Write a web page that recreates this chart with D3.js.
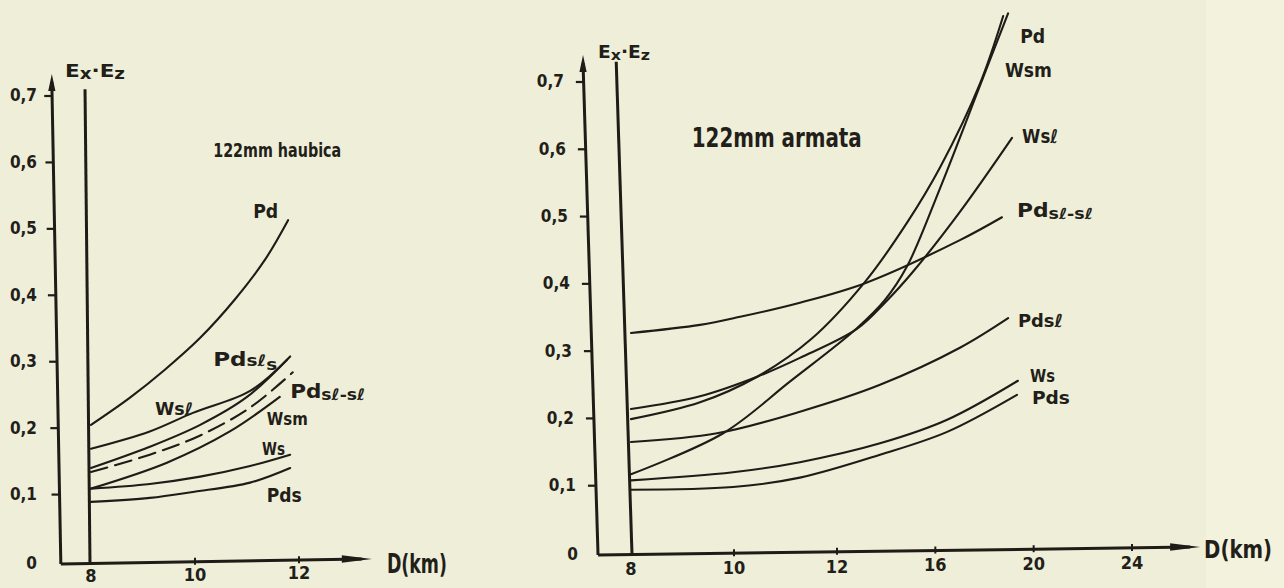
<!DOCTYPE html>
<html><head><meta charset="utf-8">
<script src="https://cdn.jsdelivr.net/npm/d3@7"></script>
<style>
html,body{margin:0;padding:0;background:#efeed8;}
svg{display:block}
text{font-family:"DejaVu Sans Condensed","DejaVu Sans",sans-serif;fill:#221e19;font-weight:bold}
</style></head><body>
<svg id="c" width="1284" height="588"></svg>
<script>
// ---------------- data ----------------
const yTickValues = [0, 0.1, 0.2, 0.3, 0.4, 0.5, 0.6, 0.7];
const yTickLabels = ["0", "0,1", "0,2", "0,3", "0,4", "0,5", "0,6", "0,7"];
const haubicaXTicks = [8, 10, 12];
const armataXTicks = [8, 10, 12, 16, 20, 24];

// 122mm haubica  [D (km), Ex·Ez]
const haubicaPd      = [[8,0.205],[8.75,0.246],[9.42,0.288],[10.1,0.336],[10.77,0.394],[11.35,0.454],[11.79,0.513]];
const haubicaPdsls   = [[8,0.140],[9.13,0.172],[10.1,0.205],[11.0,0.247],[11.83,0.308]];
const haubicaWsl     = [[8,0.169],[9.13,0.195],[9.96,0.223],[11.06,0.256],[11.77,0.303]];
const haubicaPdslsl  = [[8,0.134],[9.13,0.160],[10.1,0.189],[11.06,0.231],[11.88,0.284]];
const haubicaWsm     = [[8,0.109],[9.46,0.148],[10.67,0.195],[11.63,0.247]];
const haubicaWs      = [[8,0.109],[9.13,0.116],[10.1,0.127],[11.06,0.143],[11.83,0.160]];
const haubicaPds     = [[8,0.089],[9.13,0.095],[9.96,0.104],[11.06,0.118],[11.83,0.140]];

// 122mm armata
const armataPd     = [[8,0.199],[9.34,0.224],[10.45,0.262],[11.5,0.318],[13.14,0.403],[14.85,0.491],[16.19,0.573],[17.82,0.698],[18.76,0.798]];
const armataWsm    = [[8,0.117],[9.79,0.178],[11.09,0.255],[12.81,0.334],[13.95,0.376],[14.85,0.426],[16.19,0.542],[17.82,0.695],[18.96,0.802]];
const armataWsl    = [[8,0.214],[9.34,0.233],[10.45,0.262],[11.28,0.290],[12.81,0.333],[13.95,0.372],[15.09,0.418],[17.0,0.507],[19.12,0.617]];
const armataPdslsl = [[8,0.327],[9.34,0.339],[10.12,0.351],[11.28,0.372],[13.14,0.401],[17.0,0.465],[18.71,0.499]];
const armataPdsl   = [[8,0.165],[9.67,0.178],[11.28,0.210],[13.75,0.250],[17.0,0.305],[18.96,0.349]];
const armataWs     = [[8,0.108],[9.98,0.120],[11.28,0.135],[13.75,0.163],[16.48,0.198],[19.36,0.256]];
const armataPds    = [[8,0.094],[9.98,0.098],[11.28,0.112],[13.75,0.146],[16.48,0.180],[19.32,0.235]];

// ---------------- layout / styles ----------------
const INK = "#1f1b17";
const svg = d3.select("#c");
svg.append("rect").attr("width",1284).attr("height",588).attr("fill","#efeed8");
svg.append("rect").attr("x",1206).attr("width",78).attr("height",588).attr("fill","#f3f2dc");

const haubica = {
  xDomain:[8,12], xRange:[91,299], yRange:[561,96],
  originD:7.42, drop:3, yTopV:0.733, axisLean:0.0184, xArrowD:13.4, xRise:5,
  d8TopV:0.71, d8Lean:0.0105, d8Shift:-1,
  yLabelFixedX:37, yLabelGap:null, yLabelSize:17,
  xLabelSize:18, xLabelTop:6, xTicks:haubicaXTicks,
  series:[
    {data:haubicaPd}, {data:haubicaPdsls}, {data:haubicaWsl},
    {data:haubicaPdslsl, dash:"17,8"}, {data:haubicaWsm}, {data:haubicaWs}, {data:haubicaPds}
  ],
  labels:[
    {D:10.35, v:0.608, size:20, text:"122mm haubica", width:128},
    {D:7.5, v:0.728, size:18, text:[["E"],["x",0.85,2],["·E",1,0],["z",0.85,2]], width:60},
    {D:13.69, v:-0.018, size:26, text:"D(km)", width:60},
    {D:11.12, v:0.516, size:20, text:"Pd", width:25},
    {D:10.35, v:0.293, size:20, text:[["Pd"],["sℓ",0.8,0],["s",0.8,4]], width:64},
    {D:11.83, v:0.246, size:20, text:[["Pd"],["sℓ-sℓ",0.8,2]], width:75},
    {D:9.23, v:0.220, size:17, text:"Wsℓ", width:38},
    {D:11.38, v:0.205, size:18, text:"Wsm", width:41},
    {D:11.29, v:0.160, size:17, text:"Ws", width:23},
    {D:11.38, v:0.089, size:20, text:"Pds", width:35}
  ]
};

const armata = {
  xDomain:[8,12,24], xRange:[631,837,1132], yRange:[553,82],
  originD:7.36, drop:2, yTopV:0.74, axisLean:0.030, xArrowD:26.77, xRise:8,
  d8TopV:0.73, d8Lean:0.032, d8Shift:1,
  yLabelFixedX:null, yLabelGap:20, yLabelSize:17,
  xLabelSize:18, xLabelTop:8, xTicks:armataXTicks,
  series:[
    {data:armataPd}, {data:armataWsm}, {data:armataWsl}, {data:armataPdslsl},
    {data:armataPdsl}, {data:armataWs}, {data:armataPds}
  ],
  labels:[
    {D:9.18, v:0.603, size:26, text:"122mm armata", width:170},
    {D:7.36, v:0.736, size:17, text:[["E"],["x",0.85,2],["·E",1,0],["z",0.85,2]], width:52},
    {D:26.93, v:-0.0074, size:25, text:"D(km)", width:68},
    {D:19.45, v:0.758, size:19, text:"Pd", width:25},
    {D:18.83, v:0.707, size:19, text:"Wsm", width:47},
    {D:19.53, v:0.609, size:19, text:"Wsℓ", width:36},
    {D:19.32, v:0.499, size:19, text:[["Pd"],["sℓ-sℓ",0.8,2]], width:76},
    {D:19.36, v:0.336, size:18, text:"Pdsℓ", width:45},
    {D:19.85, v:0.254, size:18, text:"Ws", width:25},
    {D:19.93, v:0.221, size:18, text:"Pds", width:38}
  ]
};

function drawChart(cfg) {
  const x = d3.scaleLinear().domain(cfg.xDomain).range(cfg.xRange);
  const y = d3.scaleLinear().domain([0, 0.7]).range(cfg.yRange);
  const g = svg.append("g");
  const baseY = y(0) + cfg.drop;
  const ox = x(cfg.originD);
  const ex = x(cfg.xArrowD);
  const axisXAt = py => ox - cfg.axisLean * (baseY - py);
  const axisYAt = px => baseY - cfg.xRise * (px - ox) / (ex - ox);

  // y axis line + arrow
  const tipY = y(cfg.yTopV), tipX = axisXAt(tipY);
  g.append("line").attr("x1", ox).attr("y1", baseY).attr("x2", tipX).attr("y2", tipY + 8)
    .attr("stroke", INK).attr("stroke-width", 3);
  g.append("path").attr("d", `M${tipX},${tipY} L${tipX-3.6},${tipY+17} L${tipX+3.6},${tipY+17} Z`).attr("fill", INK);
  // x axis line + arrow
  const tipY2 = axisYAt(ex);
  g.append("line").attr("x1", ox).attr("y1", baseY).attr("x2", ex - 10).attr("y2", tipY2 + 0.1)
    .attr("stroke", INK).attr("stroke-width", 3);
  g.append("path").attr("d", `M${ex},${tipY2} L${ex-30},${tipY2-3.8} L${ex-30},${tipY2+3.8} Z`).attr("fill", INK);
  // vertical line at D = 8
  const d8x = x(8) + cfg.d8Shift, d8top = y(cfg.d8TopV);
  g.append("line").attr("x1", d8x).attr("y1", axisYAt(d8x)).attr("x2", d8x - cfg.d8Lean * (baseY - d8top)).attr("y2", d8top)
    .attr("stroke", INK).attr("stroke-width", 3);

  // y axis ticks & labels
  const ya = g.append("g").call(d3.axisLeft(y).tickValues(yTickValues)
      .tickFormat((d, i) => yTickLabels[i]).tickSize(8).tickPadding(4));
  ya.select(".domain").remove();
  ya.selectAll(".tick").attr("transform", d => `translate(${axisXAt(y(d))},${d === 0 ? baseY : y(d)})`);
  ya.selectAll(".tick line").attr("stroke", INK).attr("stroke-width", 2.2);
  ya.selectAll(".tick text")
    .attr("x", d => cfg.yLabelFixedX !== null ? cfg.yLabelFixedX - axisXAt(y(d)) : -cfg.yLabelGap)
    .attr("font-size", cfg.yLabelSize).attr("font-weight", "bold")
    .attr("font-family", '"DejaVu Sans Condensed","DejaVu Sans",sans-serif').attr("fill", INK);
  ya.selectAll(".tick").filter(d => d === 0).select("line").remove();

  // x axis ticks & labels
  const xa = g.append("g").call(d3.axisBottom(x).tickValues(cfg.xTicks)
      .tickFormat(d3.format("d")).tickSize(4).tickPadding(cfg.xLabelTop - 4));
  xa.select(".domain").remove();
  xa.selectAll(".tick").attr("transform", d => `translate(${x(d)},${axisYAt(x(d))})`);
  xa.selectAll(".tick line").attr("y1", -4).attr("y2", 3).attr("stroke", INK).attr("stroke-width", 2)
    .filter(d => d === 8).remove();
  xa.selectAll(".tick text").attr("font-size", cfg.xLabelSize).attr("font-weight", "bold")
    .attr("font-family", '"DejaVu Sans Condensed","DejaVu Sans",sans-serif').attr("fill", INK);

  // curves
  const line = d3.line().x(d => x(d[0])).y(d => y(d[1])).curve(d3.curveCatmullRom.alpha(0.5));
  g.selectAll("path.curve").data(cfg.series).join("path").attr("class", "curve")
    .attr("d", s => line(s.data)).attr("fill", "none").attr("stroke", INK)
    .attr("stroke-width", 2.1).attr("stroke-linecap", "round")
    .attr("stroke-dasharray", s => s.dash || null);

  // labels
  cfg.labels.forEach(l => {
    const t = g.append("text").attr("x", x(l.D)).attr("y", y(l.v)).attr("font-size", l.size);
    if (typeof l.text === "string") {
      t.text(l.text);
    } else {
      let prev = 0;
      l.text.forEach(([s, k = 1, dy = 0]) => {
        t.append("tspan").attr("font-size", l.size * k).attr("dy", dy - prev).text(s);
        prev = dy;
      });
    }
    if (l.width) t.attr("textLength", l.width).attr("lengthAdjust", "spacingAndGlyphs");
  });
}

drawChart(haubica);
drawChart(armata);
</script>
</body></html>
